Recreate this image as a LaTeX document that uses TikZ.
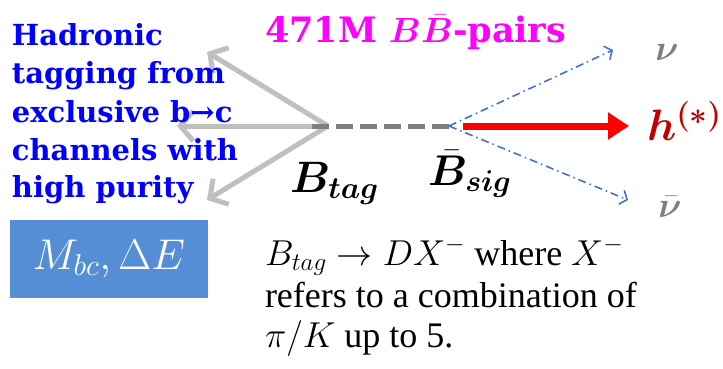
\RequirePackage{fix-cm}
\documentclass[tikz,border=0pt]{standalone}
\usepackage{amsmath,bm}
\usepackage{fontspec}
\setmainfont{Liberation Serif}
\usetikzlibrary{arrows.meta}
\newfontfamily\boldserif{DejaVu Serif}
\definecolor{tagblue}{RGB}{0,0,255}
\definecolor{magentap}{RGB}{255,0,255}
\definecolor{lgray}{RGB}{191,191,191}
\definecolor{dgray}{RGB}{127,127,127}
\definecolor{sigred}{RGB}{255,0,0}
\definecolor{hred}{RGB}{192,0,0}
\definecolor{nublue}{RGB}{68,114,196}
\definecolor{boxblue}{RGB}{85,142,213}
\begin{document}
\begin{tikzpicture}[x=1pt,y=-1pt,
  every node/.style={inner sep=0pt, outer sep=0pt},
  bluetxt/.style={anchor=base west, text=tagblue, font=\boldserif\bfseries\fontsize{29}{32}\selectfont},
  bodytxt/.style={anchor=base west, text=black, font=\rmfamily\fontsize{36}{40}\selectfont},
  tagarrow/.style={draw=lgray, line width=5pt, -{Straight Barb[length=13pt,width=30pt]}},
  nuarrow/.style={draw=nublue, line width=1.6pt, dash pattern=on 8pt off 4pt on 1.5pt off 4pt, -{Straight Barb[length=6pt,width=15pt]}},
  redarrow/.style={draw=sigred, line width=7pt, -{Triangle[length=21pt,width=26pt]}},
  linkline/.style={draw=dgray, line width=5pt, dash pattern=on 17pt off 7pt},
  nulabel/.style={text=dgray, font=\fontsize{36}{36}\selectfont},
]
\useasboundingbox (0,0) rectangle (723,369);

% vertices
\coordinate (tagv) at (328,126);
\coordinate (sigv) at (449,126);
\coordinate (tl) at (207,52);
\coordinate (tm) at (177,126);
\coordinate (tb) at (207,200);
\coordinate (redstart) at (463,126);
\coordinate (redtip) at (629,126);
\coordinate (nutip) at (613,50);
\coordinate (nubtip) at (628,200);

\draw[tagarrow] (tagv) -- (tl);
\draw[tagarrow] (tagv) -- (tm);
\draw[tagarrow] (tagv) -- (tb);
\draw[linkline] (312,126) -- (sigv);
\draw[nuarrow] (sigv) -- (nutip);
\draw[nuarrow] (sigv) -- (nubtip);
\draw[redarrow] (redstart) -- (redtip);

% blue description
\node[bluetxt] (l1) at (12,46) {Hadronic};
\node[bluetxt] (l2) at (12,84) {tagging from};
\node[bluetxt] (l3) at (12,122) {exclusive b→c};
\node[bluetxt] (l4) at (12,160) {channels with};
\node[bluetxt] (l5) at (12,197) {high purity};

% title
\node[anchor=base west, text=magentap, font=\boldserif\bfseries\fontsize{35}{37}\selectfont] (title) at (265,43) {471M $\bm{B\bar{B}}$-pairs};

% labels
\node[anchor=base west, font=\fontsize{44}{44}\selectfont] (btag) at (290,192) {$\bm{B_{tag}}$};
\node[anchor=base west, font=\fontsize{43}{43}\selectfont] (bsig) at (428,185) {$\bm{\bar{B}_{sig}}$};
\node[anchor=base west, text=hred, font=\fontsize{44}{44}\selectfont] (h) at (647,140) {$\bm{h^{(*)}}$};
\node[nulabel] (nu) at (667,52) {$\bm{\nu}$};
\node[nulabel] (nub) at (670,207) {$\bm{\bar{\nu}}$};

% box
\node[fill=boxblue, minimum width=198pt, minimum height=78pt, text=white, font=\fontsize{43}{43}\selectfont] (box) at (109,259) {$M_{bc},\Delta E$};

% body text
\node[bodytxt] (t1) at (265,265) {$B_{tag}\rightarrow DX^-$ where $X^-$};
\node[bodytxt] (t2) at (265,307) {refers to a combination of};
\node[bodytxt] (t3) at (265,347) {$\pi/K$ up to 5.};
\end{tikzpicture}
\end{document}
